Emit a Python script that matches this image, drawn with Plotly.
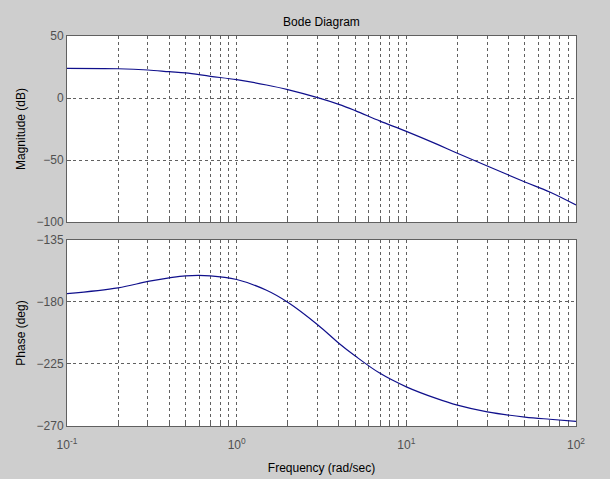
import plotly.graph_objects as go
from plotly.subplots import make_subplots

freq = [0.1, 0.2, 0.3, 0.4, 0.5, 0.7, 1, 1.5, 2, 3, 4, 5, 7, 10, 15, 20, 30, 50, 70, 100]
mag_db = [23.9, 23.6, 22.6, 21.2, 20.2, 17.5, 14.8, 10.5, 6.8, 0.3, -5.1, -10.2, -18.6, -26.9, -37.0, -44.6, -54.8, -67.7, -75.8, -86.3]
phase_deg = [-173.9, -169.7, -165.1, -162.5, -161.0, -161.0, -163.7, -171.5, -180.2, -196.5, -209.9, -219.2, -231.8, -241.6, -250.0, -254.9, -259.8, -263.5, -265.1, -266.6]

mag_ticks = [-100, -50, 0, 50]
phase_ticks = [-270, -225, -180, -135]
decades = [0.1, 1, 10, 100]
decade_labels = ["10<sup>-1</sup>", "10<sup>0</sup>", "10<sup>1</sup>", "10<sup>2</sup>"]

minor_vals = [round(d * m, 6) for d in decades[:-1] for m in range(2, 10)]

fig = make_subplots(rows=2, cols=1, shared_xaxes=False, vertical_spacing=0.046)

line_color = "#10108c"
fig.add_trace(go.Scatter(x=freq, y=mag_db, mode="lines", line=dict(color=line_color, width=1.2, shape="spline"),
                         showlegend=False), row=1, col=1)
fig.add_trace(go.Scatter(x=freq, y=phase_deg, mode="lines", line=dict(color=line_color, width=1.2, shape="spline"),
                         showlegend=False), row=2, col=1)

grid_c = "#606060"
tick_font = dict(family="Liberation Sans, Arial", size=12, color="#505050")
title_font = dict(family="Liberation Sans, Arial", size=12, color="#000000")
axis_common = dict(showline=True, linecolor=grid_c, linewidth=1, mirror=True,
                   ticks="inside", ticklen=4, tickcolor=grid_c, automargin=False,
                   showgrid=True, gridcolor=grid_c, griddash="3px,3px", gridwidth=1,
                   zeroline=False, tickfont=tick_font)

fig.update_xaxes(type="log", range=[-1, 2], tickvals=decades, ticktext=decade_labels,
                 minor=dict(tickvals=minor_vals, showgrid=True, gridcolor=grid_c, griddash="3px,3px",
                            gridwidth=1, ticks="inside", ticklen=3, tickcolor=grid_c),
                 **axis_common)
fig.update_xaxes(showticklabels=False, row=1, col=1)
fig.update_xaxes(ticklabelstandoff=8,
                 title=dict(text="Frequency (rad/sec)", font=title_font, standoff=12),
                 row=2, col=1)
fig.update_yaxes(range=[-100, 50], tickvals=mag_ticks, **axis_common,
                 title=dict(text="Magnitude (dB)", font=title_font, standoff=8),
                 row=1, col=1)
fig.update_yaxes(range=[-270, -135], tickvals=phase_ticks, **axis_common,
                 title=dict(text="Phase (deg)", font=title_font, standoff=8),
                 row=2, col=1)

fig.update_layout(
    width=610, height=479,
    margin=dict(l=67, r=34, t=36, b=53),
    paper_bgcolor="#cecece", plot_bgcolor="#ffffff",
    title=dict(text="Bode Diagram", x=0.527, xanchor="center", y=1 - 22 / 479, yanchor="middle",
               font=title_font),
)
fig.layout.yaxis.domain = [0.523, 1.0]
fig.layout.yaxis2.domain = [0.0, 0.477]

fig.write_html("out.html")
